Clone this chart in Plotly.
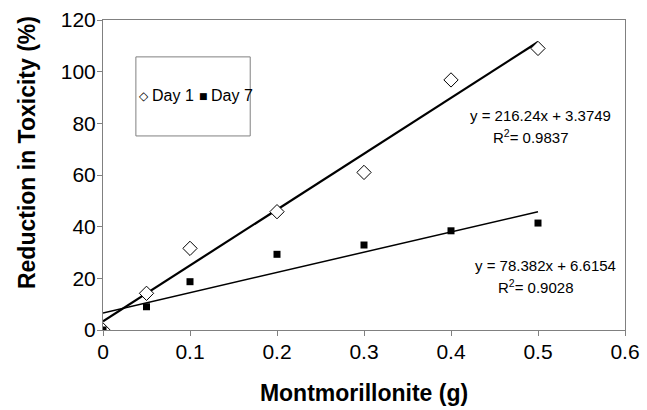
import plotly.graph_objects as go

# Data
montmorillonite = [0, 0.05, 0.1, 0.2, 0.3, 0.4, 0.5]
day1 = [0, 14.2, 31.6, 45.8, 61.0, 96.8, 109.0]
day7 = [0, 9.0, 18.7, 29.3, 32.9, 38.4, 41.4]
series_names = ["Day 1", "Day 7"]

# Trendline parameters (as printed on chart)
day1_slope, day1_intercept, day1_r2 = 216.24, 3.3749, 0.9837
day7_slope, day7_intercept, day7_r2 = 78.382, 6.6154, 0.9028

x_ticks = [0, 0.1, 0.2, 0.3, 0.4, 0.5, 0.6]
y_ticks = [0, 20, 40, 60, 80, 100, 120]

FONT = "Liberation Sans, Arial, sans-serif"

x_fit = [min(montmorillonite), max(montmorillonite)]
fit1 = [day1_slope * x + day1_intercept for x in x_fit]
fit7 = [day7_slope * x + day7_intercept for x in x_fit]

fig = go.Figure()
fig.add_trace(go.Scatter(x=x_fit, y=fit1, mode="lines", line=dict(color="black", width=2.2),
                         showlegend=False, hoverinfo="skip"))
fig.add_trace(go.Scatter(x=x_fit, y=fit7, mode="lines", line=dict(color="black", width=1.5),
                         showlegend=False, hoverinfo="skip"))
fig.add_trace(go.Scatter(x=montmorillonite, y=day1, mode="markers", name=series_names[0],
                         showlegend=False,
                         marker=dict(symbol="diamond", size=11, color="white",
                                     line=dict(color="black", width=1))))
fig.add_trace(go.Scatter(x=montmorillonite, y=day7, mode="markers", name=series_names[1],
                         showlegend=False,
                         marker=dict(symbol="square", size=7, color="black",
                                     line=dict(color="black", width=0))))

def eq(a, b):
    return f"y = {a}x + {b}"

ann_font = dict(family=FONT, size=15, color="black")
annotations = [
    dict(text=eq(day1_slope, day1_intercept), x=0.839, y=0.692),
    dict(text=f"R<sup>2</sup>= {day1_r2}", x=0.820, y=0.625),
    dict(text=eq(day7_slope, day7_intercept), x=0.847, y=0.208),
    dict(text=f"R<sup>2</sup>= {day7_r2}", x=0.830, y=0.141),
]
for a in annotations:
    a.update(xref="paper", yref="paper", xanchor="center", yanchor="middle",
             showarrow=False, font=ann_font)

# Legend (drawn as text inside a box, Excel-style compact layout)
legend_font = dict(family=FONT, size=16, color="black")
legend_anns = [
    dict(text="◇", x=0.078, y=0.755, xanchor="center", font=dict(family="DejaVu Sans", size=12, color="black")),
    dict(text=series_names[0], x=0.090, y=0.755, xanchor="left", font=legend_font),
    dict(text="■", x=0.192, y=0.755, xanchor="center", font=dict(family="DejaVu Sans", size=9, color="black")),
    dict(text=series_names[1], x=0.204, y=0.755, xanchor="left", font=legend_font),
]
for a in legend_anns:
    a.update(xref="paper", yref="paper", yanchor="middle", showarrow=False)
annotations += legend_anns

# Y-axis title (Excel places it centred on the chart area, not the plot area)
annotations.append(dict(text="<b>Reduction in Toxicity (%)</b>", xref="paper", yref="paper",
                        x=-0.1456, y=0.574, xanchor="center", yanchor="middle", textangle=-90,
                        showarrow=False, font=dict(family=FONT, size=23, color="black")))

fig.update_layout(
    width=647, height=410,
    margin=dict(l=103, r=22, t=20, b=80),
    paper_bgcolor="white", plot_bgcolor="white",
    font=dict(family=FONT, color="black"),
    annotations=annotations,
    showlegend=False,
    shapes=[dict(type="rect", xref="paper", yref="paper", x0=0.063, x1=0.282, y0=0.626, y1=0.881,
                 line=dict(color="#808080", width=1), fillcolor="rgba(0,0,0,0)", layer="above")],
    xaxis=dict(range=[0, 0.6], tickvals=x_ticks, ticktext=[f"{v:g}" for v in x_ticks],
               showgrid=False, zeroline=False, showline=True, linecolor="#808080", linewidth=1,
               mirror=True, ticks="outside", ticklen=5, tickcolor="#808080", automargin=False,
               ticklabelstandoff=-2,
               tickfont=dict(family=FONT, size=21, color="black"),
               title=dict(text="<b>Montmorillonite (g)</b>", font=dict(family=FONT, size=23, color="black"),
                          standoff=22)),
    yaxis=dict(range=[0, 120], tickvals=y_ticks,
               showgrid=False, zeroline=False, showline=True, linecolor="#808080", linewidth=1,
               mirror=True, ticks="outside", ticklen=5, tickcolor="#808080", automargin=False,
               ticklabelstandoff=-3,
               tickfont=dict(family=FONT, size=21, color="black")),
)

fig.write_html("out.html", config={"displayModeBar": False},
               post_script="document.body.style.margin='0';")
